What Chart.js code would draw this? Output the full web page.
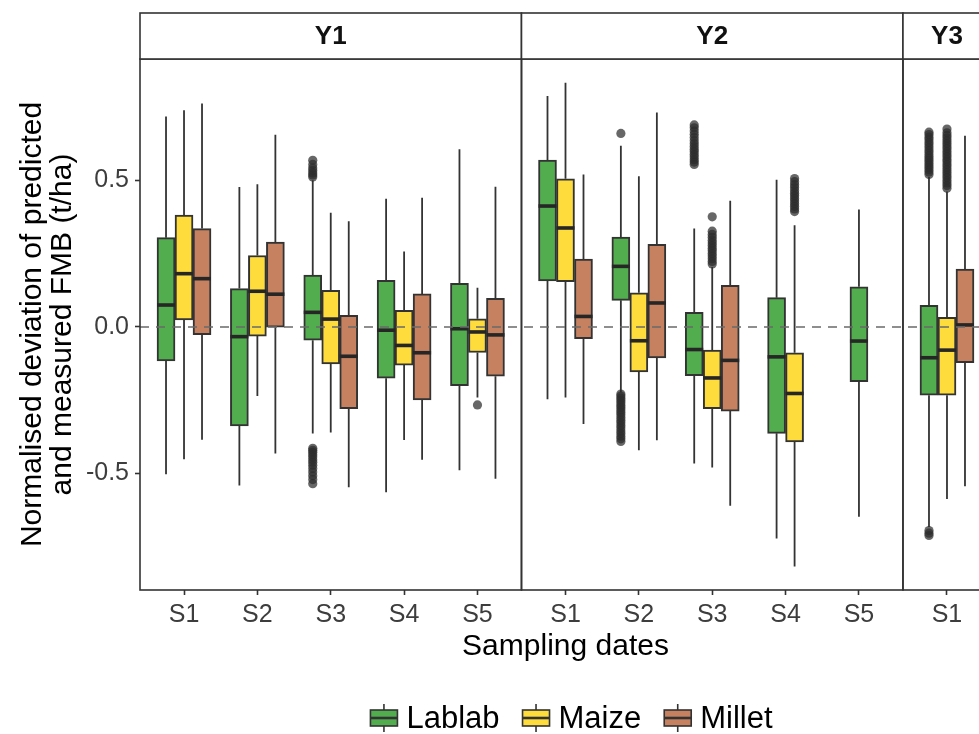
<!DOCTYPE html>
<html lang="en">
<head>
  <meta charset="UTF-8">
  <meta name="viewport" content="width=device-width, initial-scale=1.0">
  <title>Normalised deviation of predicted and measured FMB</title>
  <style>
    html, body { margin: 0; padding: 0; background: #fff; overflow: hidden; }
    #grafico { display: block; }
  </style>
</head>
<body>
  <canvas id="grafico" width="996" height="734"></canvas>

  <script src="https://cdn.jsdelivr.net/npm/chart.js"></script>

  <script>
    // facets (years) and their sampling dates
    const years = ["Y1", "Y2", "Y3"];
    const datesPerYear = [
      ["S1", "S2", "S3", "S4", "S5"],
      ["S1", "S2", "S3", "S4", "S5"],
      ["S1"]
    ];
    const crops = ["Lablab", "Maize", "Millet"];
    const yTicks = [-0.5, 0, 0.5];

    // one row per facet/date: [lower whisker, Q1, median, Q3, upper whisker], null = no box
    const lablab = [
      [-0.503, -0.116, 0.075, 0.305, 0.719],
      [-0.541, -0.338, -0.033, 0.131, 0.478],
      [-0.364, -0.045, 0.050, 0.177, 0.501],
      [-0.564, -0.175, -0.011, 0.159, 0.438],
      [-0.489, -0.200, -0.006, 0.149, 0.607],
      [-0.247, 0.157, 0.413, 0.570, 0.789],
      [-0.224, 0.091, 0.207, 0.307, 0.619],
      [-0.466, -0.166, -0.077, 0.050, 0.336],
      [-0.722, -0.363, -0.102, 0.100, 0.503],
      [-0.648, -0.187, -0.048, 0.137, 0.401],
      [-0.683, -0.233, -0.105, 0.074, 0.512]
    ];
    const maize = [
      [-0.452, 0.024, 0.182, 0.382, 0.740],
      [-0.236, -0.031, 0.122, 0.244, 0.487],
      [-0.360, -0.126, 0.027, 0.125, 0.390],
      [-0.386, -0.130, -0.063, 0.057, 0.258],
      [-0.241, -0.087, -0.017, 0.028, 0.134],
      [-0.241, 0.155, 0.338, 0.506, 0.834],
      [-0.421, -0.153, -0.047, 0.117, 0.515],
      [-0.480, -0.279, -0.174, -0.079, 0.205],
      [-0.818, -0.392, -0.227, -0.088, 0.347],
      null,
      [-0.587, -0.233, -0.079, 0.033, 0.463]
    ];
    const millet = [
      [-0.385, -0.026, 0.165, 0.336, 0.763],
      [-0.432, -0.001, 0.112, 0.290, 0.656],
      [-0.547, -0.279, -0.100, 0.040, 0.361],
      [-0.453, -0.249, -0.088, 0.113, 0.441],
      [-0.518, -0.168, -0.027, 0.098, 0.479],
      [-0.331, -0.040, 0.036, 0.232, 0.521],
      [-0.387, -0.106, 0.082, 0.282, 0.732],
      [-0.610, -0.287, -0.114, 0.142, 0.431],
      null,
      null,
      [-0.544, -0.122, 0.007, 0.198, 0.653]
    ];

    // outlying points, same order
    const lablabOut = [
      [], [],
      [0.512, 0.519, 0.526, 0.534, 0.543, 0.555, 0.569,
       -0.414, -0.421, -0.428, -0.436, -0.444, -0.453, -0.462, -0.472, -0.483, -0.495, -0.508, -0.521, -0.535],
      [], [],
      [],
      [0.661,
       -0.229, -0.236, -0.243, -0.251, -0.259, -0.267, -0.275, -0.283, -0.291, -0.300, -0.309,
       -0.318, -0.327, -0.336, -0.345, -0.355, -0.364, -0.373, -0.382, -0.391],
      [0.555, 0.563, 0.571, 0.580, 0.589, 0.598, 0.607, 0.616, 0.626, 0.636, 0.647, 0.658, 0.669, 0.680, 0.690],
      [], [],
      [0.521, 0.529, 0.537, 0.545, 0.553, 0.561, 0.569, 0.577, 0.585, 0.594, 0.603, 0.612,
       0.621, 0.630, 0.639, 0.648, 0.657, 0.665,
       -0.695, -0.704, -0.712]
    ];
    const maizeOut = [
      [], [], [], [], [-0.266],
      [], [],
      [0.215, 0.224, 0.233, 0.242, 0.251, 0.260, 0.269, 0.278, 0.287, 0.296, 0.306, 0.316, 0.327, 0.376],
      [0.394, 0.403, 0.412, 0.421, 0.430, 0.439, 0.448, 0.457, 0.466, 0.476, 0.486, 0.496, 0.507],
      [],
      [0.474, 0.483, 0.492, 0.501, 0.510, 0.519, 0.528, 0.537, 0.546, 0.555, 0.564, 0.573, 0.582,
       0.591, 0.600, 0.609, 0.618, 0.627, 0.636, 0.645, 0.654, 0.663, 0.676]
    ];
    const milletOut = [[], [], [], [], [], [], [], [], [], [], []];

    const stats = [lablab, maize, millet];
    const outliers = [lablabOut, maizeOut, milletOut];
    const colores = ["#52ad4f", "#fddc3c", "#c58160"];
    const lineColor = "#333333";
    const sansFont = '"Liberation Sans", Arial, Helvetica, sans-serif';

    // x positions: each facet has 0.6 units of padding either side (like ggplot discrete expand)
    const expand = 0.6;
    const xPos = [];
    const panels = [];
    let cursor = 0;
    datesPerYear.forEach(dates => {
      const start = cursor;
      dates.forEach((d, j) => xPos.push(start + expand + j));
      cursor = start + dates.length - 1 + 2 * expand;
      panels.push([start, cursor]);
    });
    const xLabels = datesPerYear.flat();

    const facetPlugin = {
      id: "facetas",
      beforeDatasetsDraw(chart) {
        // whiskers under the boxes
        const ctx = chart.ctx;
        const y = chart.scales.y;
        ctx.save();
        ctx.strokeStyle = lineColor;
        ctx.lineWidth = 1.8;
        chart.data.datasets.forEach((ds, di) => {
          chart.getDatasetMeta(di).data.forEach((bar, i) => {
            const s = stats[di][i];
            if (!s) return;
            ctx.beginPath();
            ctx.moveTo(bar.x, y.getPixelForValue(s[0]));
            ctx.lineTo(bar.x, y.getPixelForValue(s[1]));
            ctx.moveTo(bar.x, y.getPixelForValue(s[3]));
            ctx.lineTo(bar.x, y.getPixelForValue(s[4]));
            ctx.stroke();
          });
        });
        ctx.restore();
      },
      afterDatasetsDraw(chart) {
        const ctx = chart.ctx;
        const y = chart.scales.y;
        const area = chart.chartArea;
        ctx.save();
        chart.data.datasets.forEach((ds, di) => {
          chart.getDatasetMeta(di).data.forEach((bar, i) => {
            const s = stats[di][i];
            if (!s) return;
            // median
            const ym = y.getPixelForValue(s[2]);
            ctx.strokeStyle = "#262626";
            ctx.lineWidth = 3.6;
            ctx.beginPath();
            ctx.moveTo(bar.x - bar.width / 2, ym);
            ctx.lineTo(bar.x + bar.width / 2, ym);
            ctx.stroke();
            // outliers
            ctx.fillStyle = "rgba(45,45,45,0.72)";
            outliers[di][i].forEach(v => {
              ctx.beginPath();
              ctx.arc(bar.x, y.getPixelForValue(v), 4.6, 0, Math.PI * 2);
              ctx.fill();
            });
          });
        });
        // zero reference line
        const y0 = y.getPixelForValue(0);
        ctx.strokeStyle = "#6a6a6a";
        ctx.lineWidth = 1.6;
        ctx.setLineDash([9, 7]);
        ctx.beginPath();
        ctx.moveTo(area.left, y0);
        ctx.lineTo(area.right, y0);
        ctx.stroke();
        ctx.restore();
      },
      afterDraw(chart) {
        const ctx = chart.ctx;
        const x = chart.scales.x;
        const area = chart.chartArea;
        const stripH = 46;
        ctx.save();
        panels.forEach((p, k) => {
          const x0 = x.getPixelForValue(p[0]);
          const x1 = x.getPixelForValue(p[1]);
          ctx.strokeStyle = lineColor;
          ctx.lineWidth = 1.6;
          ctx.strokeRect(x0, area.top, x1 - x0, area.bottom - area.top);
          ctx.fillStyle = "#ffffff";
          ctx.fillRect(x0, area.top - stripH, x1 - x0, stripH);
          ctx.strokeRect(x0, area.top - stripH, x1 - x0, stripH);
          ctx.fillStyle = "#111";
          ctx.font = 'bold 26px "Liberation Sans Narrow", ' + sansFont;
          ctx.textAlign = "center";
          ctx.textBaseline = "middle";
          ctx.fillText(years[k], (x0 + x1) / 2, area.top - stripH / 2 + 1);
        });

        // legend with boxplot keys
        const ly = chart.height - 16;
        ctx.font = "31px " + sansFont;
        const keyW = 27, keyGap = 9, itemGap = 23;
        const widths = crops.map(c => ctx.measureText(c).width);
        const total = widths.reduce((a, b) => a + b, 0) + crops.length * (keyW + keyGap) + (crops.length - 1) * itemGap;
        let lx = (area.left + area.right) / 2 + 6 - total / 2;
        crops.forEach((c, k) => {
          const cx = lx + keyW / 2;
          ctx.strokeStyle = lineColor;
          ctx.lineWidth = 1.6;
          ctx.beginPath();
          ctx.moveTo(cx, ly - 14);
          ctx.lineTo(cx, ly + 14);
          ctx.stroke();
          ctx.fillStyle = colores[k];
          ctx.fillRect(lx, ly - 8, keyW, 16);
          ctx.strokeRect(lx, ly - 8, keyW, 16);
          ctx.lineWidth = 2.6;
          ctx.beginPath();
          ctx.moveTo(lx, ly);
          ctx.lineTo(lx + keyW, ly);
          ctx.stroke();
          ctx.fillStyle = "#000";
          ctx.textAlign = "left";
          ctx.textBaseline = "middle";
          ctx.fillText(c, lx + keyW + keyGap, ly + 1);
          lx += keyW + keyGap + widths[k] + itemGap;
        });
        ctx.restore();
      }
    };

    const lienzo = document.getElementById("grafico");
    const grafico = new Chart(lienzo, {
      type: "bar",
      data: {
        datasets: crops.map((c, k) => ({
          label: c,
          data: stats[k].map((s, i) => ({ x: xPos[i], y: s ? [s[1], s[3]] : null })),
          backgroundColor: colores[k],
          borderColor: lineColor,
          borderWidth: 2,
          borderSkipped: false,
          barThickness: 18,
          skipNull: true
        }))
      },
      options: {
        responsive: false,
        animation: false,
        events: [],
        devicePixelRatio: 1,
        skipNull: true,
        layout: { padding: { top: 59, right: 5, bottom: 0, left: 0 } },
        plugins: {
          legend: { display: false },
          tooltip: { enabled: false }
        },
        scales: {
          x: {
            type: "linear",
            min: 0,
            max: panels[panels.length - 1][1],
            offset: false,
            grid: { offset: false, drawOnChartArea: false, drawTicks: true, tickLength: 5, tickColor: lineColor, tickWidth: 1.6 },
            border: { display: false },
            afterBuildTicks: s => { s.ticks = xPos.map(v => ({ value: v })); },
            afterFit: s => { s.height = 144; },
            ticks: {
              autoSkip: false,
              maxRotation: 0,
              padding: 5,
              color: "#3d3d3d",
              font: { family: sansFont, size: 25 },
              callback: (v, i) => xLabels[i]
            },
            title: {
              display: true,
              text: "Sampling dates",
              color: "#000",
              font: { family: sansFont, size: 30, lineHeight: 1.0 },
              padding: { top: 0, bottom: 72 }
            }
          },
          y: {
            min: -0.898,
            max: 0.915,
            grid: { drawOnChartArea: false, drawTicks: true, tickLength: 5, tickColor: lineColor, tickWidth: 1.6 },
            border: { display: false },
            afterBuildTicks: s => { s.ticks = yTicks.map(v => ({ value: v })); },
            afterFit: s => { s.width = 140; },
            ticks: {
              padding: 6,
              color: "#3d3d3d",
              font: { family: sansFont, size: 25 },
              callback: v => v.toFixed(1)
            },
            title: {
              display: true,
              text: ["Normalised deviation of predicted", "and measured FMB (t/ha)"],
              color: "#000",
              font: { family: sansFont, size: 30, lineHeight: 1.0 },
              padding: { top: 18, bottom: 0 }
            }
          }
        }
      },
      plugins: [facetPlugin]
    });
  </script>
</body>
</html>
